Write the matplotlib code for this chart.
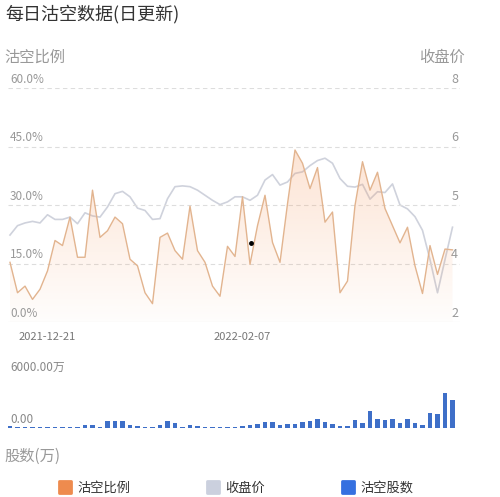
## Daily short-selling chart: ratio + close price (top), short shares (bottom)
import numpy as np
import matplotlib.pyplot as plt
from matplotlib.lines import Line2D
from matplotlib.markers import MarkerStyle

plt.rcParams['font.family'] = ['Noto Sans CJK SC', 'DejaVu Sans']

## Data
# short ratio (%) per trading day
ratio = [15.3, 7.5, 9.2, 5.8, 8.4, 13.1, 20.9, 19.6, 26.9, 16.6,
         16.6, 33.8, 21.7, 23.4, 26.9, 25.2, 16.1, 14.4, 7.5, 4.7,
         21.7, 22.8, 18.3, 16.1, 29.7, 18.3, 15.3, 9.2, 6.6, 19.4,
         16.8, 32.1, 14.8, 24.7, 32.5, 20.4, 15.3, 30.3, 44.1, 40.7,
         34.2, 39.6, 25.6, 28.2, 7.5, 10.5, 29.9, 41.1, 33.8, 38.4,
         29.1, 24.7, 20.3, 24.3, 14.4, 7.3, 19.6, 12.2, 18.7, 18.5]
# close price
price = [4.23, 4.47, 4.54, 4.58, 4.54, 4.75, 4.63, 4.63, 4.69, 4.52,
         4.80, 4.72, 4.69, 4.95, 5.29, 5.35, 5.21, 4.92, 4.86, 4.63,
         4.65, 5.16, 5.47, 5.49, 5.47, 5.38, 5.25, 5.12, 5.01, 5.08,
         5.21, 5.21, 5.12, 5.25, 5.64, 5.78, 5.51, 5.59, 5.81, 5.85,
         6.01, 6.14, 6.20, 6.07, 5.68, 5.48, 5.46, 5.53, 5.15, 5.34,
         5.32, 5.54, 5.00, 4.90, 4.70, 4.35, 3.60, 2.75, 3.60, 4.43]
# short shares (10k)
shares = [230, 150, 120, 120, 60, 150, 150, 120, 120, 120,
          310, 310, 150, 850, 850, 850, 380, 270, 150, 150,
          350, 850, 540, 150, 380, 230, 150, 150, 120, 120,
          150, 230, 310, 460, 730, 730, 350, 420, 420, 730,
          850, 1000, 730, 420, 270, 270, 920, 540, 1960, 1040,
          920, 1000, 620, 1000, 620, 350, 1690, 1620, 4080, 3230]

date_ticks = [5, 31]
date_labels = ['2021-12-21', '2022-02-07']
ratio_ticks = [0, 15, 30, 45, 60]
ratio_labels = ['0.0%', '15.0%', '30.0%', '45.0%', '60.0%']
price_ticks = [2, 3.5, 5, 6.5, 8]
price_labels = ['2', '4', '5', '6', '8']
share_ticks = [0, 6000]
share_labels = ['0.00', '6000.00万']
dot_idx, dot_val = 32.1, 20.2          # stray marker in the original

# Colours
c_ratio = '#E2B48F'
c_price = '#CFD2DC'
c_bar = '#3E6FC8'
c_grid = '#DDDDDD'
c_label = '#999999'

x = np.arange(len(ratio))
W, H = 500, 497

fig = plt.figure(figsize=(W/100, H/100), dpi=100)

## Top chart
ax = fig.add_axes([8/W, 1-322/H, 452/W, 234/H])
ax2 = ax.twinx()

# gradient fill under the ratio line
grad = np.zeros((256, 1, 4))
grad[..., 0], grad[..., 1], grad[..., 2] = 0.97, 0.62, 0.40
grad[:, 0, 3] = np.linspace(0.02, 0.28, 256)
poly = ax.fill_between(x, ratio, 0, color='none', lw=0)
img = ax.imshow(grad, extent=[x[0], x[-1], 0, max(ratio)], origin='lower',
                aspect='auto', zorder=1)
img.set_clip_path(poly.get_paths()[0], transform=ax.transData)

ax.plot(x, ratio, color=c_ratio, lw=1.0, zorder=3)
ax2.plot(x, price, color=c_price, lw=1.2, zorder=2)
ax.plot([dot_idx], [dot_val], 'o', color='black', ms=2.5, zorder=4)

for t in ratio_ticks[1:]:
    ax.axhline(t, color=c_grid, lw=0.8, dashes=(4, 3), zorder=0)
ax.axhline(0, color='#E3E3E3', lw=0.8, zorder=0)

ax.set_xlim(-0.267, 60)
ax.set_ylim(0, 60)
ax2.set_ylim(2, 8)
ax2.set_zorder(ax.get_zorder() - 1)
ax.patch.set_visible(False)

for a in (ax, ax2):
    for s in a.spines.values():
        s.set_visible(False)
    a.set_yticks([])
ax2.set_xticks([])

ax.set_xticks(date_ticks, date_labels)
ax.tick_params(axis='x', length=0, pad=7, labelsize=8, labelcolor='#777777')

for t, lab in zip(ratio_ticks, ratio_labels):
    ax.annotate(lab, (0.0045, t), xycoords=ax.get_yaxis_transform(),
                xytext=(0, 1.5), textcoords='offset points',
                ha='left', va='bottom', fontsize=8.5, color=c_label)
for t, lab in zip(price_ticks, price_labels):
    ax2.annotate(lab, (0.996, t), xycoords=ax2.get_yaxis_transform(),
                 xytext=(0, 1.5), textcoords='offset points',
                 ha='right', va='bottom', fontsize=9, color=c_label)

## Bottom chart
bx = fig.add_axes([8/W, 1-428/H, 452/W, 52/H])
bx.bar(x, shares, width=0.55, color=c_bar, zorder=2)
bx.axhline(0, color='#E8E8E8', lw=0.8, zorder=1)
bx.set_xlim(-0.267, 60)
bx.set_ylim(0, 6000)
bx.axis('off')
for t, lab in zip(share_ticks, share_labels):
    bx.annotate(lab, (0.0045, t), xycoords=bx.get_yaxis_transform(),
                xytext=(0, 1.5), textcoords='offset points',
                ha='left', va='bottom', fontsize=8.5, color='#888888')

## Texts
fig.text(5/W, 1-14/H, '每日沽空数据(日更新)', fontsize=13, color='#333333',
         va='center', ha='left')
fig.text(4/W, 1-57/H, '沽空比例', fontsize=11, color=c_label, va='center')
fig.text(465/W, 1-57/H, '收盘价', fontsize=11, color=c_label, va='center',
         ha='right')
fig.text(4/W, 1-456/H, '股数(万)', fontsize=11, color=c_label, va='center')

## Legend
ms = MarkerStyle('s', joinstyle='round')
handles = [Line2D([], [], ls='', marker=ms, ms=8, mew=2, color=c)
           for c in ('#EE8B4E', '#CBD0DE', '#3570E0')]
fig.legend(handles, ['沽空比例', '收盘价', '沽空股数'], loc='center',
           bbox_to_anchor=(236/W, 1-488/H), ncol=3, frameon=False,
           fontsize=9.5, columnspacing=5.8, handletextpad=0.4,
           handlelength=1.0, labelcolor='#333333')

fig.savefig('out.png', dpi=100)
